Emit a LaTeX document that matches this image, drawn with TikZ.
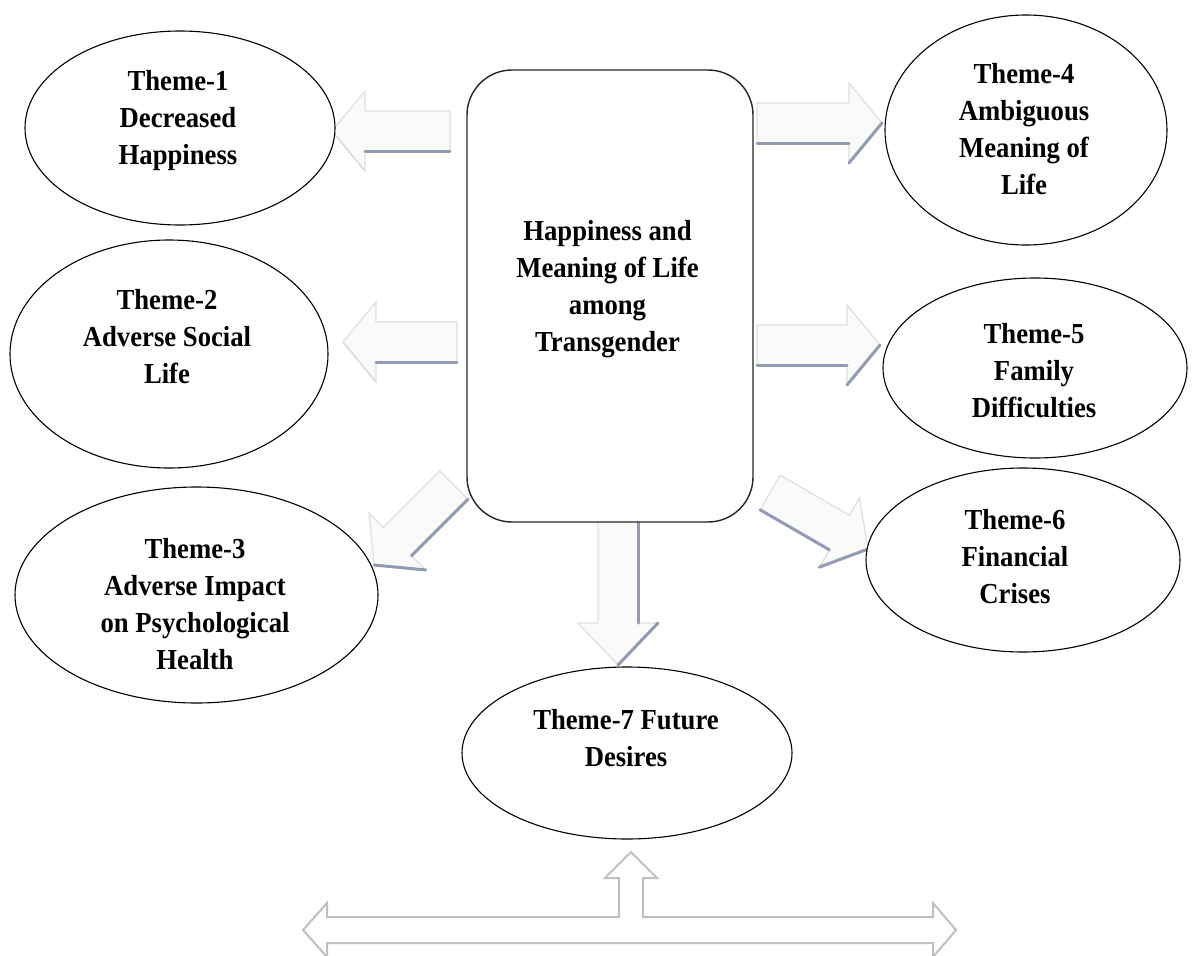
\documentclass[tikz,border=0pt]{standalone}
\usepackage{fontspec}
\setmainfont{Liberation Serif}[FakeStretch=0.92]
\usetikzlibrary{shapes.geometric}
\definecolor{shadowc}{RGB}{145,155,180}
\definecolor{outlc}{RGB}{192,192,192}
\tikzset{
  themeshape/.style={draw=black, line width=1.1pt, fill=white, ellipse, inner sep=0pt},
  themetext/.style={align=center, inner sep=0pt, font=\bfseries\fontsize{29}{37}\selectfont},
  centerbox/.style={draw=black!85, line width=1.4pt, fill=white, rounded corners=45pt, inner sep=0pt},
  arrowbody/.style={fill=gray!4, draw=gray!25, line width=1.2pt, line join=miter},
  arrowshadow/.style={draw=shadowc, line width=3pt, line cap=round},
  headshadow/.style={draw=shadowc, line width=3pt, line cap=round},
  outlinearrow/.style={draw=outlc, line width=2pt, line join=miter},
  pics/blockarrow/.style n args={3}{code={
    \path[arrowbody] (0,0) -- (-#3,40) -- (-#3,20) -- ({-#3-#1},20) -- ({-#3-#1},-20) -- (-#3,-20) -- (-#3,-40) -- cycle;
    \path[arrowshadow] ({-#3-#1},{#2*20}) -- (-#3,{#2*20});
    \path[headshadow] (-#3,{#2*40}) -- (0,0);
  }}
}
\begin{document}
\begin{tikzpicture}[x=1pt,y=-1pt]
\fill[white] (0,0) rectangle (1192,956);
\useasboundingbox (0,0) rectangle (1192,956);
\clip (0,0) rectangle (1192,956);

% arrow tips
\coordinate (a1) at (332,131);
\coordinate (a2) at (343,342);
\coordinate (a3) at (374,565);
\coordinate (a4) at (882,123);
\coordinate (a5) at (880,345);
\coordinate (a6) at (868,549);
\coordinate (a7) at (618,665);

% block arrows (drawn under the boxes)
\pic[rotate=180, headshadow/.style={draw=gray!30, line width=1.2pt}] at (a1) {blockarrow={85}{-1}{33}};
\pic[rotate=180, headshadow/.style={draw=gray!30, line width=1.2pt}] at (a2) {blockarrow={81}{-1}{33}};
\pic[rotate=-135] at (a3) {blockarrow={80}{-1}{33}};
\pic[rotate=0] at (a4) {blockarrow={92}{1}{33}};
\pic[rotate=0] at (a5) {blockarrow={90}{1}{33}};
\pic[rotate=-30] at (a6) {blockarrow={80}{1}{33}};
\pic[rotate=-90] at (a7) {blockarrow={102}{-1}{42}};

% central box
\node[centerbox, minimum width=286pt, minimum height=452pt] (c) at (610,296) {};
\node[themetext] (ct) at (607.5,289) {Happiness and\\Meaning of Life\\among\\Transgender};

% theme ellipses
\node[themeshape, minimum width=310pt, minimum height=194pt] (e1) at (180,128) {};
\node[themetext] (t1) at (178,121) {Theme-1\\Decreased\\Happiness};

\node[themeshape, minimum width=318pt, minimum height=228pt] (e2) at (169,354) {};
\node[themetext] (t2) at (167,337) {Theme-2\\Adverse Social\\Life};

\node[themeshape, minimum width=363pt, minimum height=216pt] (e3) at (196.5,595) {};
\node[themetext] (t3) at (195,604) {Theme-3\\Adverse Impact\\on Psychological\\Health};

\node[themeshape, minimum width=282pt, minimum height=230pt] (e4) at (1026,130) {};
\node[themetext] (t4) at (1024,129) {Theme-4\\Ambiguous\\Meaning of\\Life};

\node[themeshape, minimum width=304pt, minimum height=180pt] (e5) at (1035,368) {};
\node[themetext] (t5) at (1034,371) {Theme-5\\Family\\Difficulties};

\node[themeshape, minimum width=314pt, minimum height=184pt] (e6) at (1023,560) {};
\node[themetext] (t6) at (1015,557) {Theme-6\\Financial\\Crises};

\node[themeshape, minimum width=330pt, minimum height=172pt] (e7) at (627,753) {};
\node[themetext] (t7) at (626,738) {Theme-7 Future\\Desires};

% bottom outline arrow
\coordinate (up) at (631,852);
\draw[outlinearrow] (303,930) -- (327,903) -- (327,917) -- (619,917) -- (619,878) -- (605,878) -- (up) -- (657,878) -- (643,878) -- (643,917) -- (933,917) -- (933,903) -- (956,930) -- (933,957) -- (933,943) -- (327,943) -- (327,957) -- cycle;
\end{tikzpicture}
\end{document}
